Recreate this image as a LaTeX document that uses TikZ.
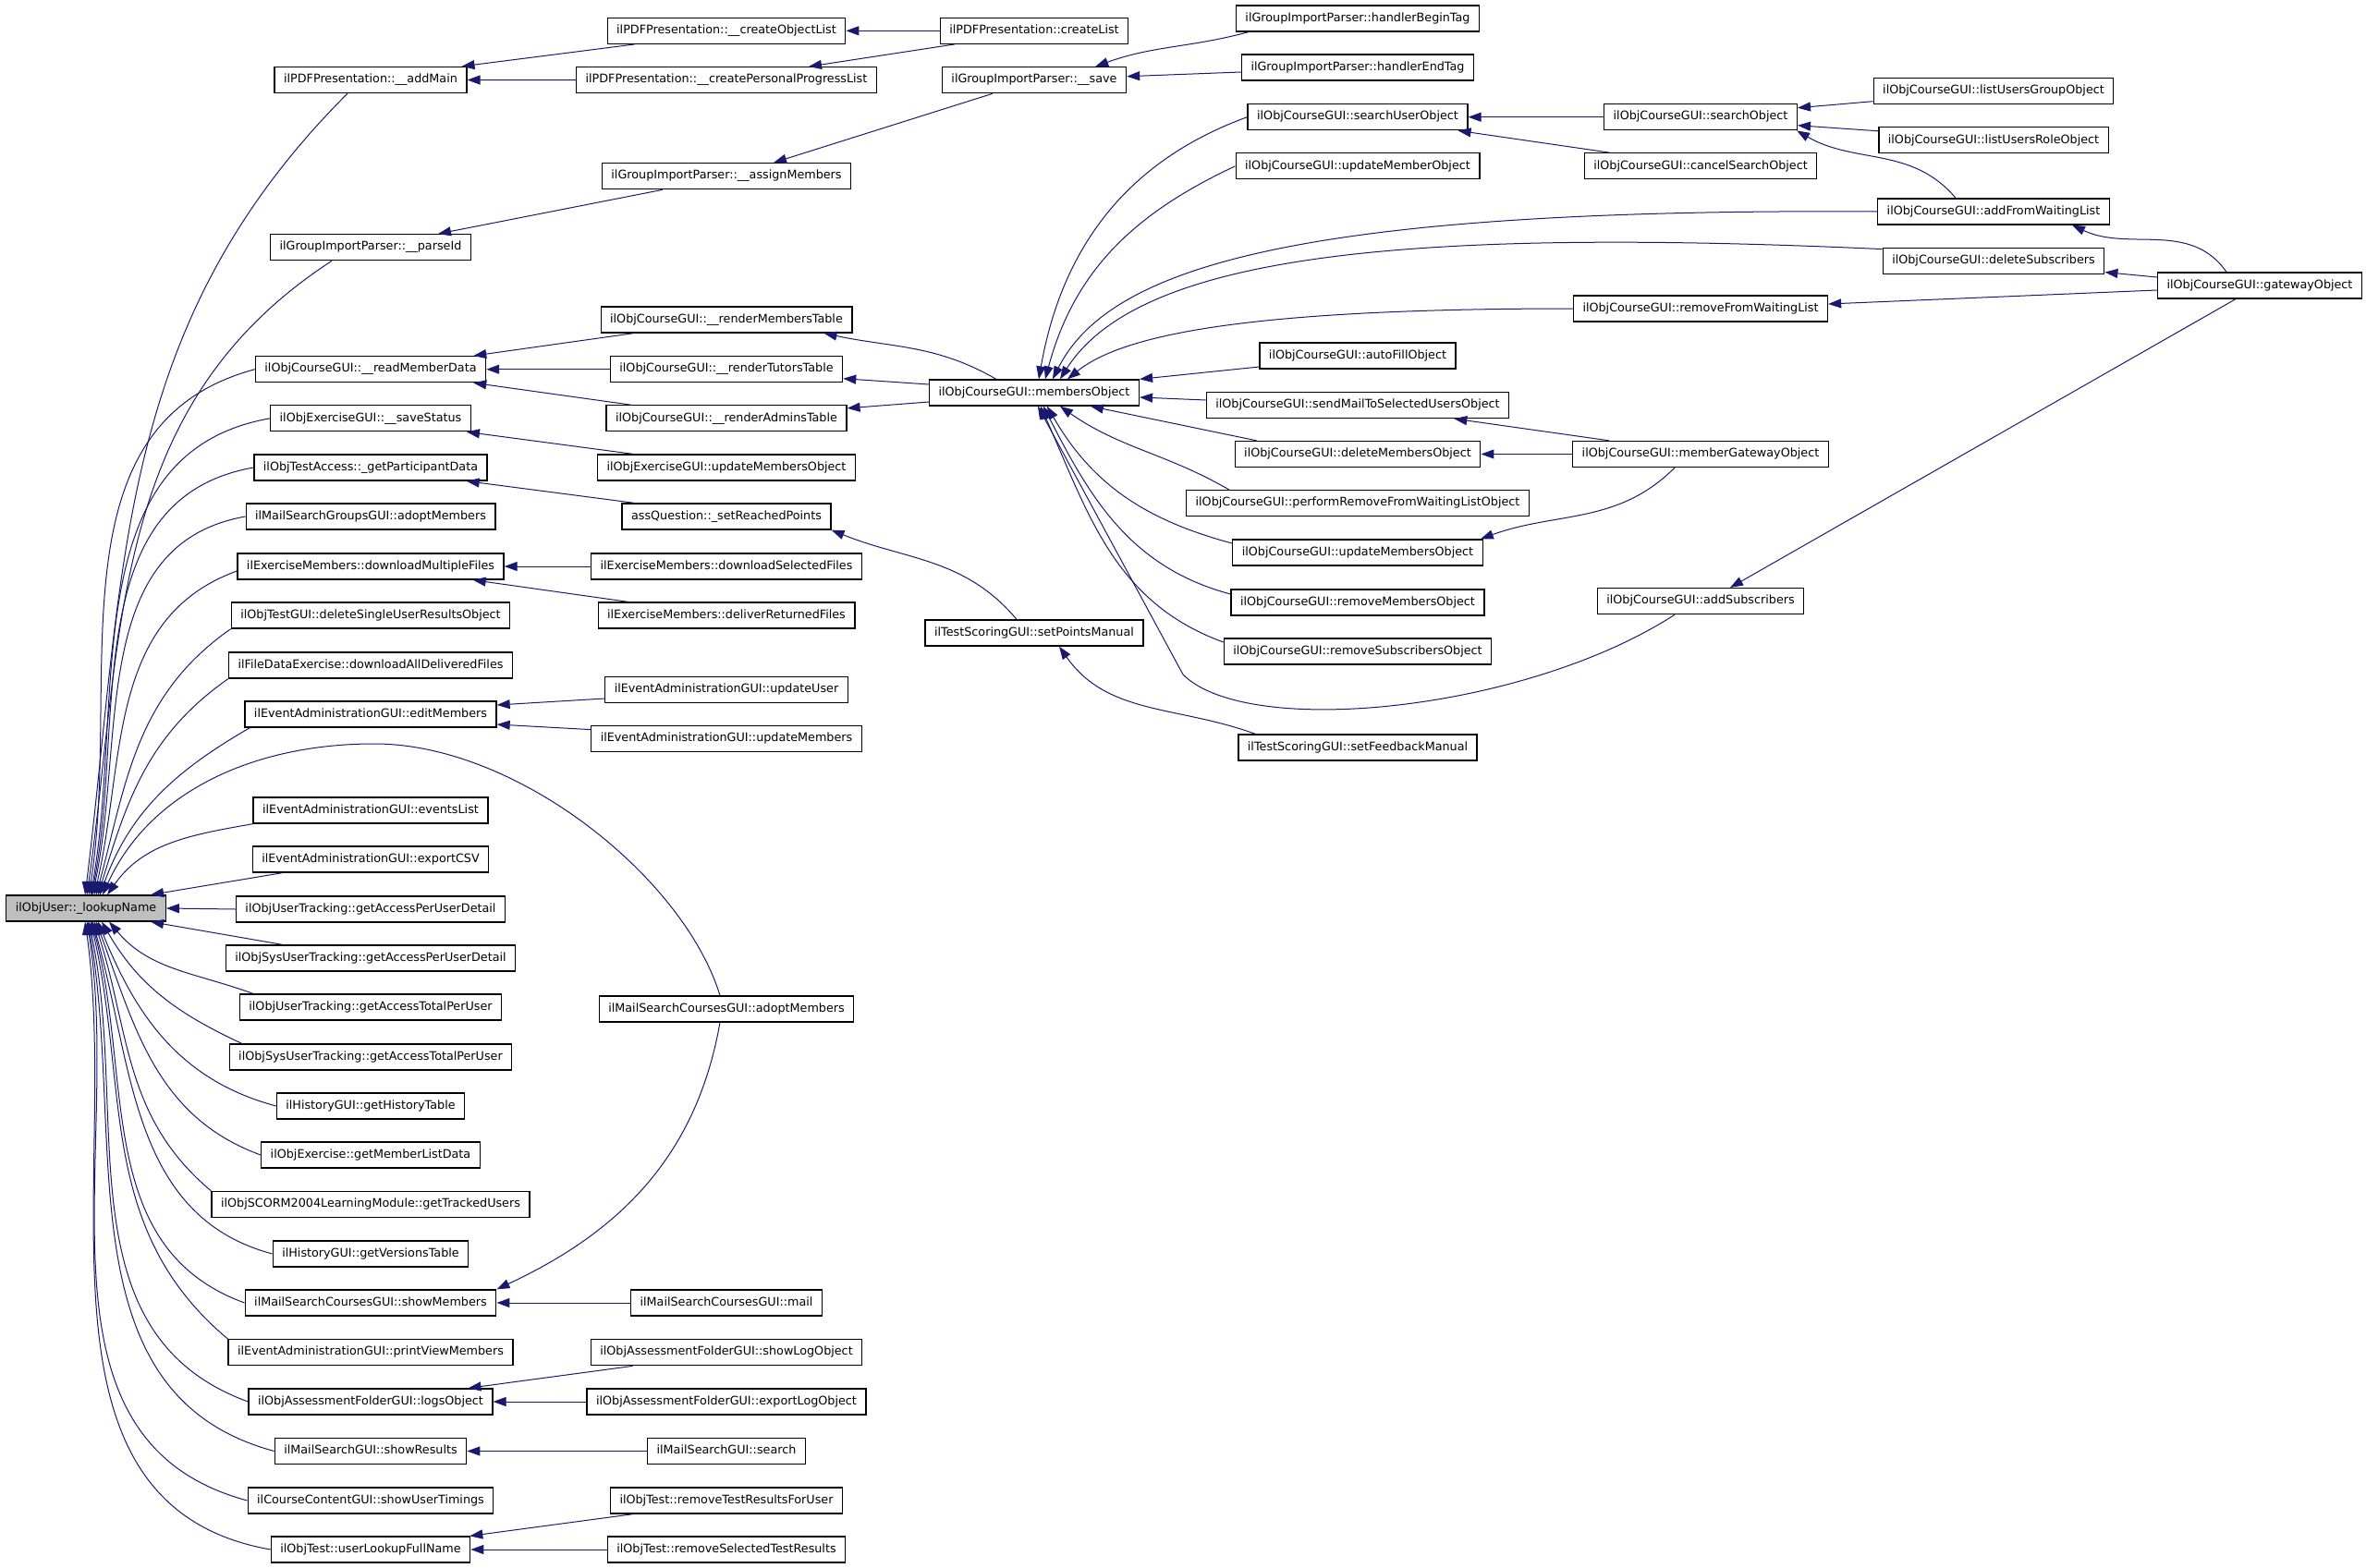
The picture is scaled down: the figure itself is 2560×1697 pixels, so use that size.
\documentclass[tikz,border=0pt]{standalone}
\usepackage{fontspec}
\setmainfont{DejaVu Sans}
\usepackage{tikz}
\usetikzlibrary{arrows.meta,positioning,calc}
\definecolor{edgeblue}{RGB}{25,25,112}
\definecolor{rootgray}{RGB}{191,191,191}

\begin{document}
\begin{tikzpicture}[x=1pt,y=1pt, every node/.style={font=\fontsize{12.75pt}{15pt}\selectfont},
  fn/.style={draw,line width=1.3pt,inner xsep=10pt,inner ysep=0pt,minimum height=28pt,text height=9.5pt,text depth=3pt},
  call/.style={draw=edgeblue,line width=1pt,{Triangle[length=14pt,width=10pt]}-}]
\useasboundingbox (0,0) rectangle (2560,-1697);
\node[fn,fill=rootgray] (lookup) at (93,-983) {ilObjUser::\_lookupName};
\node[fn] (addMain) at (401,-86.5) {ilPDFPresentation::\_\_addMain};
\node[fn] (parseId) at (401,-267.7) {ilGroupImportParser::\_\_parseId};
\node[fn] (readMD) at (401,-399.7) {ilObjCourseGUI::\_\_readMemberData};
\node[fn] (saveStatus) at (401,-452.8) {ilObjExerciseGUI::\_\_saveStatus};
\node[fn] (partData) at (401,-506) {ilObjTestAccess::\_getParticipantData};
\node[fn] (mailGrpAdopt) at (401,-559) {ilMailSearchGroupsGUI::adoptMembers};
\node[fn] (dlMulti) at (401,-613) {ilExerciseMembers::downloadMultipleFiles};
\node[fn] (delSingle) at (401,-666) {ilObjTestGUI::deleteSingleUserResultsObject};
\node[fn] (dlAll) at (401,-720) {ilFileDataExercise::downloadAllDeliveredFiles};
\node[fn] (editMem) at (401,-773) {ilEventAdministrationGUI::editMembers};
\node[fn] (evList) at (401,-877) {ilEventAdministrationGUI::eventsList};
\node[fn] (expCSV) at (401,-930) {ilEventAdministrationGUI::exportCSV};
\node[fn] (accUD) at (401,-984) {ilObjUserTracking::getAccessPerUserDetail};
\node[fn] (sysAccUD) at (401,-1037) {ilObjSysUserTracking::getAccessPerUserDetail};
\node[fn] (accTot) at (401,-1090) {ilObjUserTracking::getAccessTotalPerUser};
\node[fn] (sysAccTot) at (401,-1144) {ilObjSysUserTracking::getAccessTotalPerUser};
\node[fn] (histTab) at (401,-1197) {ilHistoryGUI::getHistoryTable};
\node[fn] (memList) at (401,-1250) {ilObjExercise::getMemberListData};
\node[fn] (scorm) at (401,-1303.5) {ilObjSCORM2004LearningModule::getTrackedUsers};
\node[fn] (verTab) at (401,-1357) {ilHistoryGUI::getVersionsTable};
\node[fn] (showMem) at (401,-1410) {ilMailSearchCoursesGUI::showMembers};
\node[fn] (printView) at (401,-1463.7) {ilEventAdministrationGUI::printViewMembers};
\node[fn] (logsObj) at (401,-1517) {ilObjAssessmentFolderGUI::logsObject};
\node[fn] (showRes) at (401,-1570.5) {ilMailSearchGUI::showResults};
\node[fn] (timings) at (401,-1624) {ilCourseContentGUI::showUserTimings};
\node[fn] (fullName) at (401,-1677) {ilObjTest::userLookupFullName};
\node[fn] (createObjList) at (786,-33.3) {ilPDFPresentation::\_\_createObjectList};
\node[fn] (createPPL) at (786,-86.7) {ilPDFPresentation::\_\_createPersonalProgressList};
\node[fn] (assignMem) at (786,-190.7) {ilGroupImportParser::\_\_assignMembers};
\node[fn] (rMemTab) at (786,-346) {ilObjCourseGUI::\_\_renderMembersTable};
\node[fn] (rTutTab) at (786,-399.7) {ilObjCourseGUI::\_\_renderTutorsTable};
\node[fn] (rAdmTab) at (786,-452.8) {ilObjCourseGUI::\_\_renderAdminsTable};
\node[fn] (exUpdMem) at (786,-506) {ilObjExerciseGUI::updateMembersObject};
\node[fn] (setReached) at (786,-559) {assQuestion::\_setReachedPoints};
\node[fn] (dlSel) at (786,-613) {ilExerciseMembers::downloadSelectedFiles};
\node[fn] (delivRet) at (786,-666) {ilExerciseMembers::deliverReturnedFiles};
\node[fn] (updUser) at (786,-746.5) {ilEventAdministrationGUI::updateUser};
\node[fn] (updMembers) at (786,-799.6) {ilEventAdministrationGUI::updateMembers};
\node[fn] (mailCrsAdopt) at (786,-1092) {ilMailSearchCoursesGUI::adoptMembers};
\node[fn] (mailCrs) at (786,-1410) {ilMailSearchCoursesGUI::mail};
\node[fn] (showLog) at (786,-1463.7) {ilObjAssessmentFolderGUI::showLogObject};
\node[fn] (exportLog) at (786,-1517) {ilObjAssessmentFolderGUI::exportLogObject};
\node[fn] (mailSearch) at (786,-1570.5) {ilMailSearchGUI::search};
\node[fn] (rmTestUser) at (786,-1624) {ilObjTest::removeTestResultsForUser};
\node[fn] (rmSelTest) at (786,-1677) {ilObjTest::removeSelectedTestResults};
\node[fn] (createList) at (1119,-33.3) {ilPDFPresentation::createList};
\node[fn] (save) at (1119,-86.7) {ilGroupImportParser::\_\_save};
\node[fn] (membersObj) at (1119,-425) {ilObjCourseGUI::membersObject};
\node[fn] (setPoints) at (1119,-685) {ilTestScoringGUI::setPointsManual};
\node[fn] (beginTag) at (1469,-20) {ilGroupImportParser::handlerBeginTag};
\node[fn] (endTag) at (1469,-73) {ilGroupImportParser::handlerEndTag};
\node[fn] (searchUser) at (1469,-126.7) {ilObjCourseGUI::searchUserObject};
\node[fn] (updMember) at (1469,-179.8) {ilObjCourseGUI::updateMemberObject};
\node[fn] (autoFill) at (1469,-385) {ilObjCourseGUI::autoFillObject};
\node[fn] (sendMail) at (1469,-438.5) {ilObjCourseGUI::sendMailToSelectedUsersObject};
\node[fn] (delMembers) at (1469,-491.5) {ilObjCourseGUI::deleteMembersObject};
\node[fn] (performRemove) at (1469,-544.7) {ilObjCourseGUI::performRemoveFromWaitingListObject};
\node[fn] (crsUpdMembers) at (1469,-598) {ilObjCourseGUI::updateMembersObject};
\node[fn] (rmMembers) at (1469,-652) {ilObjCourseGUI::removeMembersObject};
\node[fn] (rmSubscribers) at (1469,-705) {ilObjCourseGUI::removeSubscribersObject};
\node[fn] (setFeedback) at (1469,-809) {ilTestScoringGUI::setFeedbackManual};
\node[fn] (searchObj) at (1840,-126.7) {ilObjCourseGUI::searchObject};
\node[fn] (cancelSearch) at (1840,-179.8) {ilObjCourseGUI::cancelSearchObject};
\node[fn] (rmWaiting) at (1840,-334) {ilObjCourseGUI::removeFromWaitingList};
\node[fn] (memberGateway) at (1840,-491.5) {ilObjCourseGUI::memberGatewayObject};
\node[fn] (addSubscr) at (1840,-650.6) {ilObjCourseGUI::addSubscribers};
\node[fn] (listGroup) at (2157,-98.7) {ilObjCourseGUI::listUsersGroupObject};
\node[fn] (listRole) at (2157,-151.8) {ilObjCourseGUI::listUsersRoleObject};
\node[fn] (addWaiting) at (2157,-229) {ilObjCourseGUI::addFromWaitingList};
\node[fn] (delSubscr) at (2157,-282.6) {ilObjCourseGUI::deleteSubscribers};
\node[fn] (gateway) at (2445,-309) {ilObjCourseGUI::gatewayObject};
\draw[call] ([xshift=86pt]lookup.north west) to[out=83,in=225] ([xshift=-25pt]addMain.south);
\draw[call] ([xshift=88pt]lookup.north west) to[out=82,in=213] ([xshift=-42pt]parseId.south);
\draw[call] ([xshift=90pt]lookup.north west) to[out=81,in=195] (readMD.west);
\draw[call] ([xshift=92pt]lookup.north west) to[out=80,in=190] (saveStatus.west);
\draw[call] ([xshift=93pt]lookup.north west) to[out=79,in=190] (partData.west);
\draw[call] ([xshift=94pt]lookup.north west) to[out=78,in=190] (mailGrpAdopt.west);
\draw[call] ([xshift=96pt]lookup.north west) to[out=77,in=200] ([yshift=-5pt]dlMulti.west);
\draw[call] ([xshift=98pt]lookup.north west) to[out=75,in=215] (delSingle.south west);
\draw[call] ([xshift=100pt]lookup.north west) to[out=73,in=215] (dlAll.south west);
\draw[call] ([xshift=102pt]lookup.north west) to[out=70,in=210] ([xshift=6pt]editMem.south west);
\draw[call] ([xshift=105pt]lookup.north west) .. controls (160,-860) and (270,-805) .. (405,-805) .. controls (560,-805) and (740,-950) .. ([xshift=-7pt]mailCrsAdopt.north);
\draw[call] ([xshift=110pt]lookup.north west) to[out=55,in=190] (evList.south west);
\draw[call] ([xshift=157pt]lookup.north west) -- ([xshift=33pt]expCSV.south west);
\draw[call] (lookup.east) -- (accUD.west);
\draw[call] ([xshift=157pt]lookup.south west) -- ([xshift=62pt]sysAccUD.north west);
\draw[call] ([xshift=112pt]lookup.south west) to[out=-50,in=160] ([xshift=15pt]accTot.north west);
\draw[call] ([xshift=104pt]lookup.south west) to[out=-60,in=155] ([xshift=14pt]sysAccTot.north west);
\draw[call] ([xshift=100pt]lookup.south west) to[out=-68,in=165] (histTab.west);
\draw[call] ([xshift=98pt]lookup.south west) to[out=-70,in=160] (memList.west);
\draw[call] ([xshift=96pt]lookup.south west) to[out=-72,in=140] (scorm.north west);
\draw[call] ([xshift=94pt]lookup.south west) to[out=-74,in=165] (verTab.west);
\draw[call] ([xshift=93pt]lookup.south west) to[out=-75,in=160] (showMem.west);
\draw[call] ([xshift=92pt]lookup.south west) to[out=-77,in=140] (printView.north west);
\draw[call] ([xshift=90pt]lookup.south west) to[out=-78,in=160] (logsObj.west);
\draw[call] ([xshift=89pt]lookup.south west) to[out=-80,in=165] (showRes.west);
\draw[call] ([xshift=88pt]lookup.south west) to[out=-81,in=165] (timings.west);
\draw[call] ([xshift=86pt]lookup.south west) to[out=-82,in=170] (fullName.west);
\draw[call] ([xshift=-6pt]addMain.north east) -- ([xshift=30pt]createObjList.south west);
\draw[call] (addMain.east) -- (createPPL.west);
\draw[call] (createObjList.east) -- (createList.west);
\draw[call] ([xshift=-74pt]createPPL.north east) -- ([xshift=16pt]createList.south west);
\draw[call] ([xshift=-36pt]parseId.north east) -- ([xshift=66pt]assignMem.south west);
\draw[call] ([xshift=51pt]assignMem.north) -- ([xshift=55pt]save.south west);
\draw[call] ([xshift=-34pt]save.north east) to[out=20,in=195] ([xshift=14pt]beginTag.south west);
\draw[call] ([yshift=4pt]save.east) -- ([yshift=-5pt]endTag.west);
\draw[call] ([xshift=-14pt]readMD.north east) -- ([xshift=36pt]rMemTab.south west);
\draw[call] (readMD.east) -- (rTutTab.west);
\draw[call] ([xshift=-14pt]readMD.south east) -- ([xshift=27pt]rAdmTab.north west);
\draw[call] ([xshift=-31pt]rMemTab.south east) to[out=-12,in=150] ([xshift=73pt]membersObj.north west);
\draw[call] ([yshift=-10pt]rTutTab.east) -- ([yshift=9pt]membersObj.west);
\draw[call] ([yshift=11pt]rAdmTab.east) -- ([yshift=-10pt]membersObj.west);
\draw[call] ([xshift=-5pt]saveStatus.south east) -- ([xshift=39pt]exUpdMem.north west);
\draw[call] ([xshift=-23pt]partData.south east) -- ([xshift=14pt]setReached.north west);
\draw[call] (setReached.south east) to[out=-22,in=130] ([xshift=-19pt]setPoints.north);
\draw[call] ([xshift=27pt]setPoints.south) to[out=-55,in=160] ([xshift=19pt]setFeedback.north west);
\draw[call] (dlMulti.east) -- (dlSel.west);
\draw[call] ([xshift=-34pt]dlMulti.south east) -- ([xshift=33pt]delivRet.north west);
\draw[call] ([yshift=10pt]editMem.east) -- ([yshift=-9.5pt]updUser.west);
\draw[call] ([yshift=-11pt]editMem.east) -- ([yshift=10pt]updMembers.west);
\draw[call] (showMem.east) -- (mailCrs.west);
\draw[call] (showMem.north east) to[out=25,in=-100] ([xshift=-7pt]mailCrsAdopt.south);
\draw[call] ([xshift=-27pt]logsObj.north east) -- ([xshift=46pt]showLog.south west);
\draw[call] (logsObj.east) -- (exportLog.west);
\draw[call] (showRes.east) -- (mailSearch.west);
\draw[call] ([xshift=-1pt]fullName.north east) -- ([xshift=25pt]rmTestUser.south west);
\draw[call] (fullName.east) -- (rmSelTest.west);
\draw[call] ([xshift=119pt]membersObj.north west) to[out=80,in=200] (searchUser.west);
\draw[call] ([xshift=126pt]membersObj.north west) to[out=75,in=205] (updMember.west);
\draw[call] ([xshift=134pt]membersObj.north west) .. controls (1200,-290) and (1400,-225) .. (addWaiting.west);
\draw[call] ([xshift=142pt]membersObj.north west) .. controls (1230,-280) and (1500,-245) .. ([yshift=13pt]delSubscr.west);
\draw[call] ([xshift=150pt]membersObj.north west) .. controls (1215,-362) and (1350,-334) .. (rmWaiting.west);
\draw[call] (membersObj.north east) -- ([yshift=-12pt]autoFill.west);
\draw[call] ([yshift=-5pt]membersObj.east) -- ([yshift=5.5pt]sendMail.west);
\draw[call] ([xshift=175pt]membersObj.south west) -- ([xshift=24pt]delMembers.north west);
\draw[call] ([xshift=142pt]membersObj.south west) to[out=-35,in=150] ([xshift=47pt]performRemove.north west);
\draw[call] ([xshift=128pt]membersObj.south west) to[out=-60,in=165] ([yshift=10pt]crsUpdMembers.west);
\draw[call] ([xshift=124pt]membersObj.south west) to[out=-63,in=165] ([yshift=9pt]rmMembers.west);
\draw[call] ([xshift=121pt]membersObj.south west) to[out=-66,in=160] ([yshift=10pt]rmSubscribers.west);
\draw[call] ([xshift=118pt]membersObj.south west) -- (1280,-730) .. controls (1350,-800) and (1650,-770) .. ([xshift=-28pt]addSubscr.south);
\draw[call] (searchUser.east) -- (searchObj.west);
\draw[call] ([xshift=-11pt]searchUser.south east) -- ([xshift=28pt]cancelSearch.north west);
\draw[call] ([yshift=10pt]searchObj.east) -- ([yshift=-11pt]listGroup.west);
\draw[call] ([yshift=-9pt]searchObj.east) -- ([yshift=10pt]listRole.west);
\draw[call] ([xshift=-1pt]searchObj.south east) to[out=-30,in=130] ([xshift=-41pt]addWaiting.north);
\draw[call] ([xshift=-41pt]addWaiting.south east) to[out=-25,in=125] ([xshift=-36pt]gateway.north);
\draw[call] ([yshift=-12pt]delSubscr.east) -- ([yshift=9pt]gateway.west);
\draw[call] ([yshift=5pt]rmWaiting.east) -- ([yshift=-5pt]gateway.west);
\draw[call] ([xshift=-60pt]sendMail.south east) -- ([xshift=40pt]memberGateway.north west);
\draw[call] (delMembers.east) -- (memberGateway.west);
\draw[call] ([xshift=-3pt]crsUpdMembers.north east) to[out=20,in=-135] ([xshift=-28pt]memberGateway.south);
\draw[call] ([xshift=32pt]addSubscr.north) -- ([xshift=-26pt]gateway.south);
\end{tikzpicture}
\end{document}
